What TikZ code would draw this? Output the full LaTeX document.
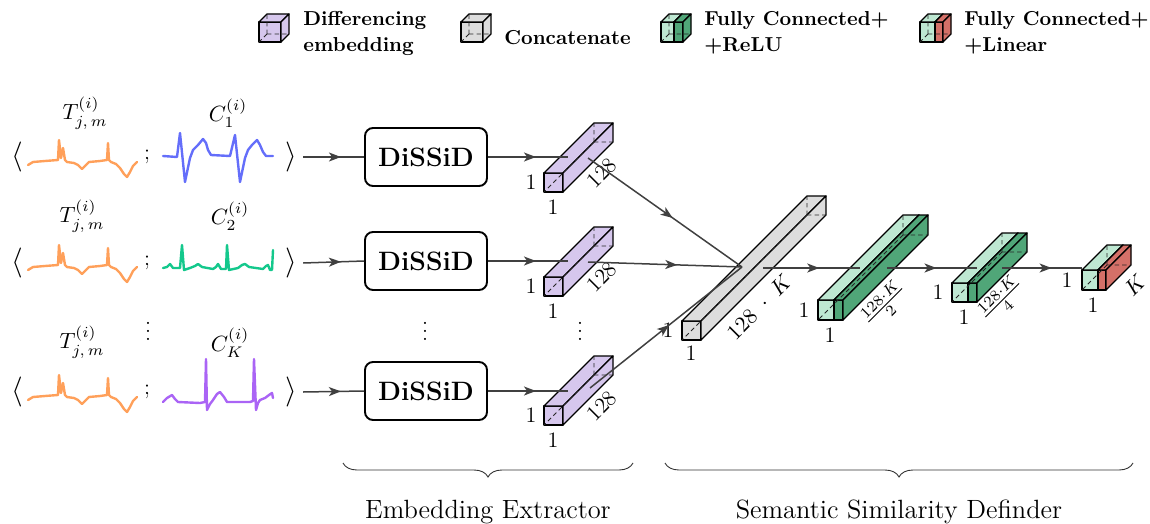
\RequirePackage{fix-cm}
\documentclass[tikz,border=0pt]{standalone}
\usepackage{amsmath}
\usetikzlibrary{arrows.meta,decorations.markings,decorations.pathreplacing}
\definecolor{cpurple}{RGB}{214,199,237}
\definecolor{cgray}{RGB}{221,221,221}
\definecolor{clgreen}{RGB}{190,232,210}
\definecolor{cdgreen}{RGB}{80,166,120}
\definecolor{cred}{RGB}{212,112,104}
\definecolor{linegray}{RGB}{64,64,64}
\definecolor{sorange}{RGB}{255,160,90}
\definecolor{sblue}{RGB}{100,110,250}
\definecolor{sgreen}{RGB}{20,200,140}
\definecolor{spurple}{RGB}{170,100,245}
\tikzset{
  conn/.style={draw=linegray, line width=0.75pt},
  midarrow/.style={postaction={decorate}, decoration={markings, mark=at position #1 with {\arrow[linegray]{Stealth[length=6pt,width=4.5pt,inset=1.6pt]}}}},
  dissid/.style={draw=black, line width=0.95pt, rounded corners=4pt, minimum width=61pt, minimum height=29pt, fill=white, font=\fontsize{13.3}{16}\selectfont\bfseries},
  dimlab/.style={font=\fontsize{11}{13}\selectfont, inner sep=0pt},
  siglab/.style={font=\fontsize{11}{13}\selectfont, inner sep=0pt},
  brk/.style={font=\fontsize{15}{18}\selectfont, inner sep=0pt},
  legtext/.style={font=\fontsize{10.1}{13}\selectfont\bfseries, align=left, anchor=west, inner sep=0pt},
  bottomtext/.style={font=\fontsize{13.2}{16}\selectfont, inner sep=0pt},
  cubeedge/.style={draw=black, line width=0.65pt, line join=round},
  hiddenedge/.style={draw=black!85, line width=0.45pt, dash pattern=on 2.2pt off 1.6pt},
  sig/.style={line width=1.2pt, line join=round, line cap=round},
  bracestyle/.style={draw=black!80, line width=0.45pt, decorate, decoration={brace, mirror, amplitude=7pt}}
}
\newcommand\cubefaces[6]{%
  \filldraw[cubeedge, fill=#6] (#1,#2) rectangle ++(#3,-#4);
  \filldraw[cubeedge, fill=#6] (#1,#2-#4) -- ++(#5,-#5) -- ++(#3,0) -- ++(-#5,#5) -- cycle;
  \filldraw[cubeedge, fill=#6] (#1+#3,#2) -- ++(0,-#4) -- ++(#5,-#5) -- ++(0,#4) -- cycle;
}
\newcommand\cubehidden[5]{%
  \draw[hiddenedge] (#1+#5,#2-#5) -- ++(0,-#4) (#1+#5,#2-#5) -- ++(#3,0) (#1+#5,#2-#5) -- (#1,#2);
}
\begin{document}
\begin{tikzpicture}[x=0.5pt,y=-0.5pt]
\useasboundingbox (0,0) rectangle (1150,524);

% ---------- legend ----------
\cubefaces{259}{42}{22}{20}{8}{cpurple}\cubehidden{259}{42}{22}{20}{8}
\node[legtext] (lg1) at (303,33) {Differencing\\embedding};
\cubefaces{461}{42}{22}{20}{8}{cgray}\cubehidden{461}{42}{22}{20}{8}
\node[legtext] (lg2) at (504,38) {Concatenate};
\cubefaces{661}{42}{13}{20}{8}{clgreen}\cubefaces{674}{42}{9}{20}{8}{cdgreen}\cubehidden{661}{42}{22}{20}{8}
\node[legtext] (lg3) at (704,33) {Fully Connected+\\+ReLU};
\cubefaces{920}{42}{15}{20}{8}{clgreen}\cubefaces{935}{42}{8}{20}{8}{cred}\cubehidden{920}{42}{23}{20}{8}
\node[legtext] (lg4) at (964,33) {Fully Connected+\\+Linear};

% ---------- input rows ----------
\foreach \r/\yy/\dy in {1/157/0, 2/263/105, 3/392/235}{
  \node[brk] (la\r) at (17,\yy) {$\langle$};
  \node[brk] (ra\r) at (291,\yy) {$\rangle$};
  \node[siglab] (sc\r) at (147,\yy) {;};
  \draw[sig, sorange, shift={(0,\dy)}] (28,165) -- (33,162) -- (45,161) -- (58,160) -- (59,140) -- (61,158) -- (63,148) -- (65,160) -- (67,162) -- (74,163) -- (78,165) -- (82,169) -- (86,165) -- (89,162) -- (100,161) -- (107,160) -- (108,143) -- (109,160) -- (111,162) -- (116,164) -- (120,168) -- (124,174) -- (127,177) -- (130,172) -- (133,166) -- (137,162);
}
\node[siglab] (t1) at (85,113) {$T^{(i)}_{j,\,m}$};
\node[siglab] (t2) at (82,216) {$T^{(i)}_{j,\,m}$};
\node[siglab] (t3) at (82,342) {$T^{(i)}_{j,\,m}$};
\node[siglab] (c1) at (228,113) {$C^{(i)}_{1}$};
\node[siglab] (c2) at (230,216) {$C^{(i)}_{2}$};
\node[siglab] (c3) at (230,343) {$C^{(i)}_{K}$};
\node[siglab] (vd1) at (148,325) {$\vdots$};

\draw[sig, sblue] (163,156) -- (177,157) -- (180,133) -- (185,182) -- (190,158) -- (193,150) -- (198,145) -- (203,139) -- (206,143) -- (208,150) -- (211,155) -- (230,156) -- (235,135) -- (240,182) -- (245,158) -- (248,150) -- (252,145) -- (257,140) -- (260,145) -- (263,152) -- (266,156) -- (273,156);
\draw[sig, sgreen] (163,268) -- (167,267) -- (170,264) -- (173,268) -- (180,268) -- (182,245) -- (184,270) -- (190,268) -- (195,266) -- (198,264) -- (202,267) -- (213,269) -- (216,267) -- (218,264) -- (221,269) -- (226,269) -- (227,245) -- (229,270) -- (238,268) -- (242,265) -- (245,264) -- (249,267) -- (263,269) -- (266,266) -- (268,265) -- (270,270) -- (272,270) -- (273,250);
\draw[sig, spurple] (163,402) -- (167,398) -- (172,395) -- (175,399) -- (178,402) -- (200,403) -- (205,402) -- (206,359) -- (207,410) -- (210,404) -- (213,400) -- (217,394) -- (220,392) -- (224,397) -- (227,402) -- (250,402) -- (253,401) -- (254,359) -- (256,410) -- (258,403) -- (260,400) -- (265,398) -- (269,395) -- (272,393) -- (273,398);

% ---------- DiSSiD ----------
\node[dissid] (d1) at (426,157) {DiSSiD};
\node[dissid] (d2) at (426,261) {DiSSiD};
\node[dissid] (d3) at (426,391) {DiSSiD};
\node[siglab] (vd2) at (425,325) {$\vdots$};
\node[siglab] (vd3) at (580,325) {$\vdots$};

% ---------- cubes ----------
\foreach \yb in {192,296,425}{
  \cubefaces{544}{\yb}{19}{19}{50}{cpurple}\cubehidden{544}{\yb}{19}{19}{50}
}
\node[dimlab] (pa1) at (531,182) {1};
\node[dimlab] (pb1) at (553,207) {1};
\node[dimlab, rotate=45] (pc1) at (602,173) {128};
\node[dimlab] (pa2) at (531,286) {1};
\node[dimlab] (pb2) at (553,311) {1};
\node[dimlab, rotate=45] (pc2) at (602,277) {128};
\node[dimlab] (pa3) at (531,415) {1};
\node[dimlab] (pb3) at (553,440) {1};
\node[dimlab, rotate=45] (pc3) at (602,406) {128};

\cubefaces{682}{340}{19}{19}{125}{cgray}\cubehidden{682}{340}{19}{19}{125}
\node[dimlab] (ka) at (668,330) {1};
\node[dimlab] (kb) at (691,353) {1};
\node[dimlab, rotate=45] (kc) at (759,307) {$128\;\cdot\;K$};

\cubefaces{818}{320}{16}{20}{85}{clgreen}\cubefaces{834}{320}{9}{20}{85}{cdgreen}\cubehidden{818}{320}{25}{20}{85}
\node[dimlab] (ga) at (804,310) {1};
\node[dimlab] (gb) at (830,335) {1};
\node[dimlab, rotate=45] (gc) at (885,305) {$\frac{128\cdot K}{2}$};

\cubefaces{952}{302}{16}{19}{50}{clgreen}\cubefaces{968}{302}{9}{19}{50}{cdgreen}\cubehidden{952}{302}{25}{19}{50}
\node[dimlab] (ha) at (938,292) {1};
\node[dimlab] (hb) at (964,317) {1};
\node[dimlab, rotate=45] (hc) at (1002,300) {$\frac{128\cdot K}{4}$};

\cubefaces{1082}{290}{16}{20}{25}{clgreen}\cubefaces{1098}{290}{8}{20}{25}{cred}\cubehidden{1082}{290}{24}{20}{25}
\node[dimlab] (ra) at (1067,280) {1};
\node[dimlab] (rb) at (1093,305) {1};
\node[dimlab, rotate=45] (rc) at (1135,285) {$K$};

% ---------- connectors ----------
\coordinate (p1in) at (568,157); \coordinate (p1out) at (588,158);
\coordinate (p2in) at (568,261); \coordinate (p2out) at (588,262);
\coordinate (p3in) at (568,391); \coordinate (p3out) at (590,388);
\coordinate (cat) at (742,267); \coordinate (catout) at (763,268);
\coordinate (g1in) at (860,268); \coordinate (g1out) at (887,268);
\coordinate (g2in) at (977,268); \coordinate (g2out) at (1002,268);
\coordinate (rin) at (1082,268);

\foreach \r in {1,2,3}{
  \draw[conn, midarrow=0.62] ([xshift=3pt]ra\r.east) -- (d\r.west);
  \draw[conn, midarrow=0.6] (d\r.east) -- (p\r in);
}
\draw[conn, midarrow=0.55] (p1out) -- (cat);
\draw[conn, midarrow=0.58] (p2out) -- (cat);
\draw[conn, midarrow=0.52] (p3out) -- (cat);
\draw[conn, midarrow=0.58] (catout) -- (g1in);
\draw[conn, midarrow=0.55] (g1out) -- (g2in);
\draw[conn, midarrow=0.62] (g2out) -- (rin);

% ---------- braces ----------
\coordinate (b1l) at (343,463); \coordinate (b1r) at (633,463);
\coordinate (b2l) at (665,463); \coordinate (b2r) at (1133,463);
\draw[bracestyle] (b1l) -- (b1r);
\draw[bracestyle] (b2l) -- (b2r);
\node[bottomtext] (ee) at (488,512) {Embedding Extractor};
\node[bottomtext] (ssd) at (899,512) {Semantic Similarity Definder};
\end{tikzpicture}
\end{document}
